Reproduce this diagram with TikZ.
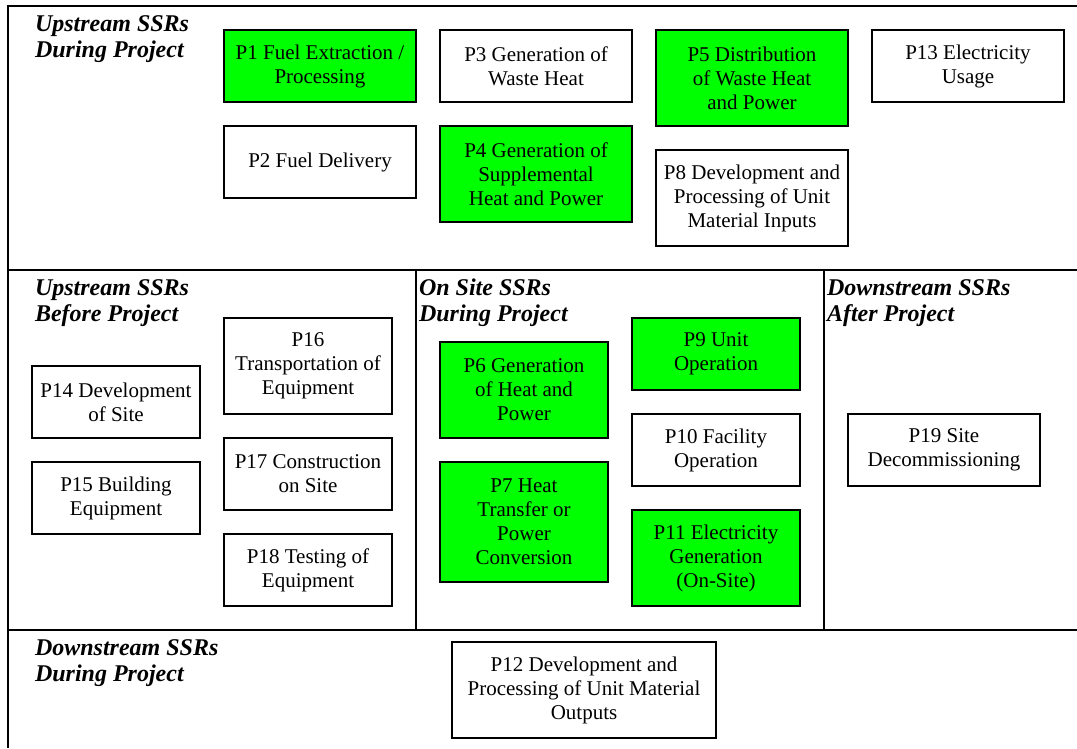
\documentclass[tikz,border=0pt]{standalone}
\usepackage{fontspec}
\setmainfont{Liberation Serif}
\definecolor{ssrgreen}{RGB}{0,255,0}
\tikzset{
  box/.style={draw=black, line width=2pt, inner sep=0pt, outer sep=0pt,
    align=center, anchor=north west,
    font=\fontsize{21}{24}\selectfont},
  gbox/.style={box, fill=ssrgreen},
  wbox/.style={box, fill=white},
  lbl/.style={inner sep=0pt, outer sep=0pt, align=left, anchor=base west,
    font=\fontsize{24}{26}\selectfont\bfseries\itshape},
  frame/.style={draw=black, line width=2pt},
}
\begin{document}
\begin{tikzpicture}[x=1pt,y=-1pt]
\useasboundingbox (0,0) rectangle (1077,748);
% frame
\coordinate (tl) at (8,6);
\coordinate (tr) at (1077,6);
\coordinate (bl) at (8,748);
\coordinate (m1l) at (8,270);
\coordinate (m1r) at (1077,270);
\coordinate (m2l) at (8,630);
\coordinate (m2r) at (1077,630);
\coordinate (v1t) at (416,270);
\coordinate (v1b) at (416,630);
\coordinate (v2t) at (824,270);
\coordinate (v2b) at (824,630);
\draw[frame] (tr) -- (tl) -- (bl);
\draw[frame] (m1l) -- (m1r);
\draw[frame] (m2l) -- (m2r);
\draw[frame] (v1t) -- (v1b);
\draw[frame] (v2t) -- (v2b);
% labels (anchor = baseline of the last line)
\node[lbl] (l1) at (35,57) {Upstream SSRs\\During Project};
\node[lbl] (l2) at (35,321) {Upstream SSRs\\Before Project};
\node[lbl] (l3) at (419,321) {On Site SSRs\\During Project};
\node[lbl] (l4) at (827,321) {Downstream SSRs\\After Project};
\node[lbl] (l5) at (35,681) {Downstream SSRs\\During Project};
% top region
\node[gbox, minimum width=192, minimum height=72] (p1) at (224,30) {P1 Fuel Extraction /\\Processing};
\node[wbox, minimum width=192, minimum height=72] (p3) at (440,30) {P3 Generation of\\Waste Heat};
\node[gbox, minimum width=192, minimum height=96] (p5) at (656,30) {P5 Distribution\\of Waste Heat\\and Power};
\node[wbox, minimum width=192, minimum height=72] (p13) at (872,30) {P13 Electricity\\Usage};
\node[wbox, minimum width=192, minimum height=72] (p2) at (224,126) {P2 Fuel Delivery};
\node[gbox, minimum width=192, minimum height=96] (p4) at (440,126) {P4 Generation of\\Supplemental\\Heat and Power};
\node[wbox, minimum width=192, minimum height=96] (p8) at (656,150) {P8 Development and\\Processing of Unit\\Material Inputs};
% upstream before
\node[wbox, minimum width=168, minimum height=72] (p14) at (32,366) {P14 Development\\of Site};
\node[wbox, minimum width=168, minimum height=72] (p15) at (32,462) {P15 Building\\Equipment};
\node[wbox, minimum width=168, minimum height=96] (p16) at (224,318) {P16\\Transportation of\\Equipment};
\node[wbox, minimum width=168, minimum height=72] (p17) at (224,438) {P17 Construction\\on Site};
\node[wbox, minimum width=168, minimum height=72] (p18) at (224,534) {P18 Testing of\\Equipment};
% on site
\node[gbox, minimum width=168, minimum height=96] (p6) at (440,342) {P6 Generation\\of Heat and\\Power};
\node[gbox, minimum width=168, minimum height=120] (p7) at (440,462) {P7 Heat\\Transfer or\\Power\\Conversion};
\node[gbox, minimum width=168, minimum height=72] (p9) at (632,318) {P9 Unit\\Operation};
\node[wbox, minimum width=168, minimum height=72] (p10) at (632,414) {P10 Facility\\Operation};
\node[gbox, minimum width=168, minimum height=96] (p11) at (632,510) {P11 Electricity\\Generation\\(On-Site)};
% downstream after
\node[wbox, minimum width=192, minimum height=72] (p19) at (848,414) {P19 Site\\Decommissioning};
% downstream during
\node[wbox, minimum width=264, minimum height=96] (p12) at (452,642) {P12 Development and\\Processing of Unit Material\\Outputs};
\end{tikzpicture}
\end{document}
